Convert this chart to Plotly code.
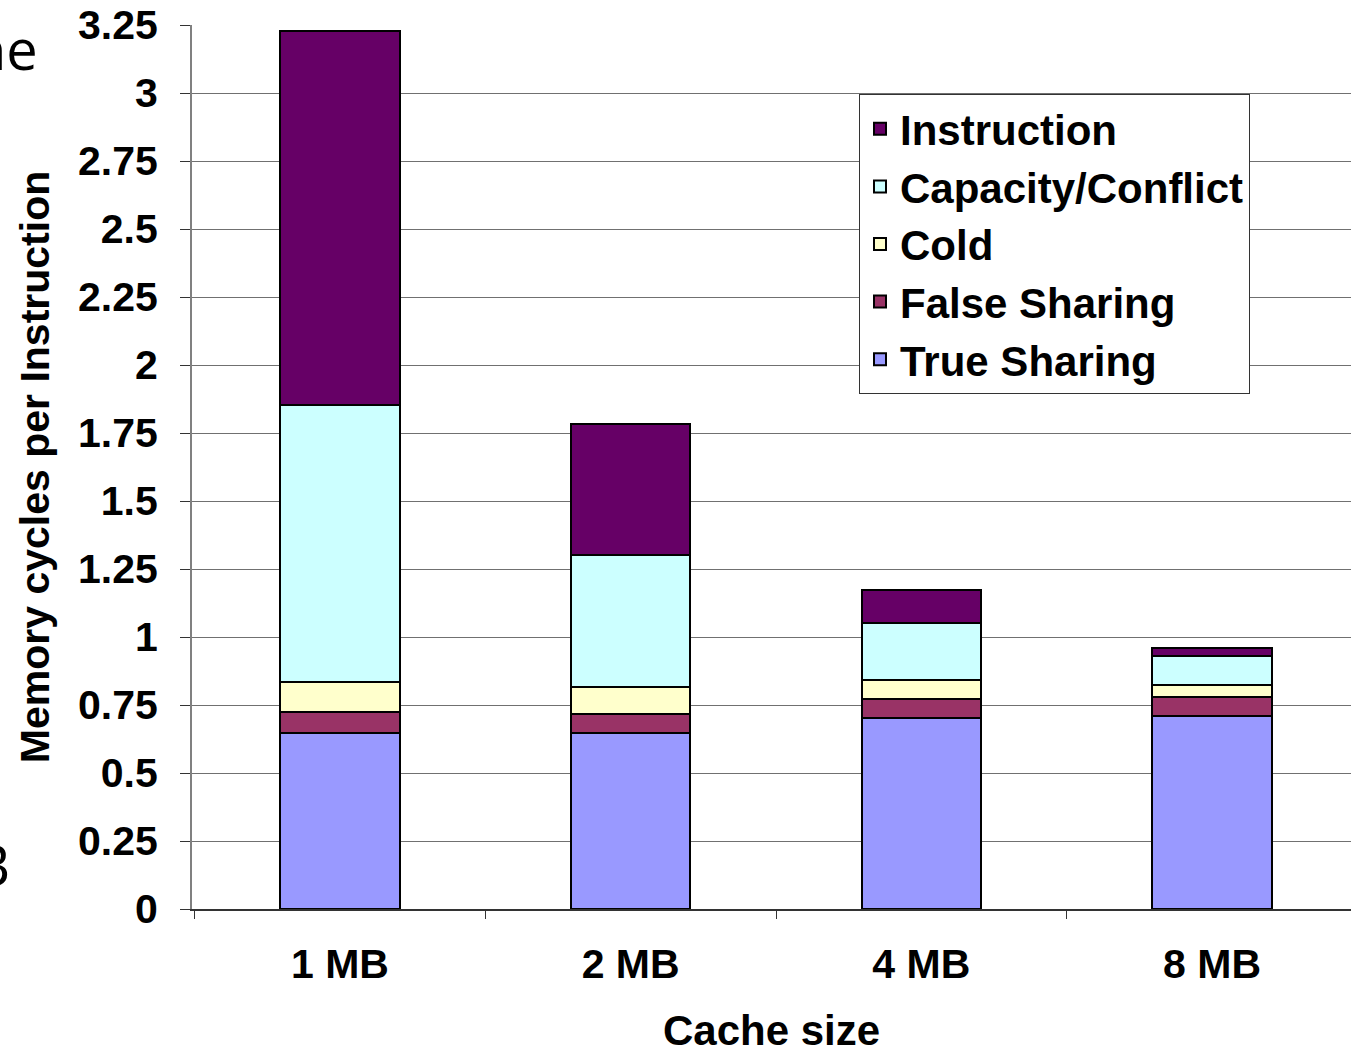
import plotly.graph_objects as go

# ---- data ----
categories = ["1 MB", "2 MB", "4 MB", "8 MB"]
true_sharing = [0.647, 0.647, 0.702, 0.710]
false_sharing = [0.077, 0.070, 0.070, 0.069]
cold = [0.111, 0.099, 0.070, 0.045]
capacity_conflict = [1.018, 0.485, 0.209, 0.106]
instruction = [1.375, 0.482, 0.122, 0.030]

y_tick_values = [0, 0.25, 0.5, 0.75, 1, 1.25, 1.5, 1.75, 2, 2.25, 2.5, 2.75, 3, 3.25]
y_tick_labels = ["0", "0.25", "0.5", "0.75", "1", "1.25", "1.5", "1.75", "2", "2.25", "2.5", "2.75", "3", "3.25"]

series = [
    ("True Sharing", true_sharing, "#9999FF"),
    ("False Sharing", false_sharing, "#993366"),
    ("Cold", cold, "#FFFFCC"),
    ("Capacity/Conflict", capacity_conflict, "#CCFFFF"),
    ("Instruction", instruction, "#660066"),
]

W, H = 1351, 1054
L, R, T, B = 192, 0, 25, 145

FONT = "Arial, Liberation Sans, sans-serif"

fig = go.Figure()
for name, vals, color in series:
    fig.add_trace(go.Bar(
        x=categories, y=vals, name=name,
        marker=dict(color=color, line=dict(color="#000000", width=2)),
        width=0.41,
    ))

def px_x(px):
    return (px - L) / (W - L - R)

def px_y(py):
    return (H - B - py) / (H - T - B)

fig.update_layout(
    width=W, height=H,
    margin=dict(l=L, r=R, t=T, b=B, pad=0),
    barmode="stack",
    paper_bgcolor="white",
    plot_bgcolor="white",
    font=dict(family=FONT, color="#000000"),
    showlegend=True,
    legend=dict(
        traceorder="reversed",
        x=px_x(859), y=px_y(94), xanchor="left", yanchor="top",
        bgcolor="white", bordercolor="#333333", borderwidth=1,
        font=dict(family=FONT, size=42, weight="bold", color="#000000"),
        itemwidth=30,
        tracegroupgap=0,
    ),
    xaxis=dict(
        range=[-0.509, 3.478],
        showline=True, linecolor="#333333", linewidth=2,
        ticks="outside", tickson="boundaries", ticklen=8, tickcolor="#333333", tickwidth=1,
        tickfont=dict(family=FONT, size=41, weight="bold", color="#000000"),
        ticklabelstandoff=18,
        showgrid=False, zeroline=False,
        title=dict(text="Cache size", font=dict(family=FONT, size=42, weight="bold", color="#000000"), standoff=38),
    ),
    yaxis=dict(
        range=[0, 3.25],
        tickmode="array", tickvals=y_tick_values, ticktext=y_tick_labels,
        showline=True, linecolor="#808080", linewidth=2,
        ticks="outside", ticklen=10, tickcolor="#333333", tickwidth=1,
        tickfont=dict(family=FONT, size=41, weight="bold", color="#000000"),
        ticklabelstandoff=14,
        showgrid=True, gridcolor="#707070", gridwidth=1,
        zeroline=False,
        title=dict(text="Memory cycles per Instruction", font=dict(family=FONT, size=41, weight="bold", color="#000000"), standoff=16),
    ),
    annotations=[
        dict(text="ne", xref="paper", yref="paper", x=px_x(40), y=px_y(88),
             xanchor="right", yanchor="bottom", showarrow=False,
             font=dict(family="Open Sans, sans-serif", size=56, color="#000000")),
        dict(text="B", xref="paper", yref="paper", x=px_x(12), y=px_y(904),
             xanchor="right", yanchor="bottom", showarrow=False,
             font=dict(family="Open Sans, sans-serif", size=56, color="#000000")),
    ],
)

fig.write_html(
    "out.html",
    config={"displayModeBar": False},
    post_script="document.body.style.margin='0px';document.body.style.overflow='hidden';",
)
